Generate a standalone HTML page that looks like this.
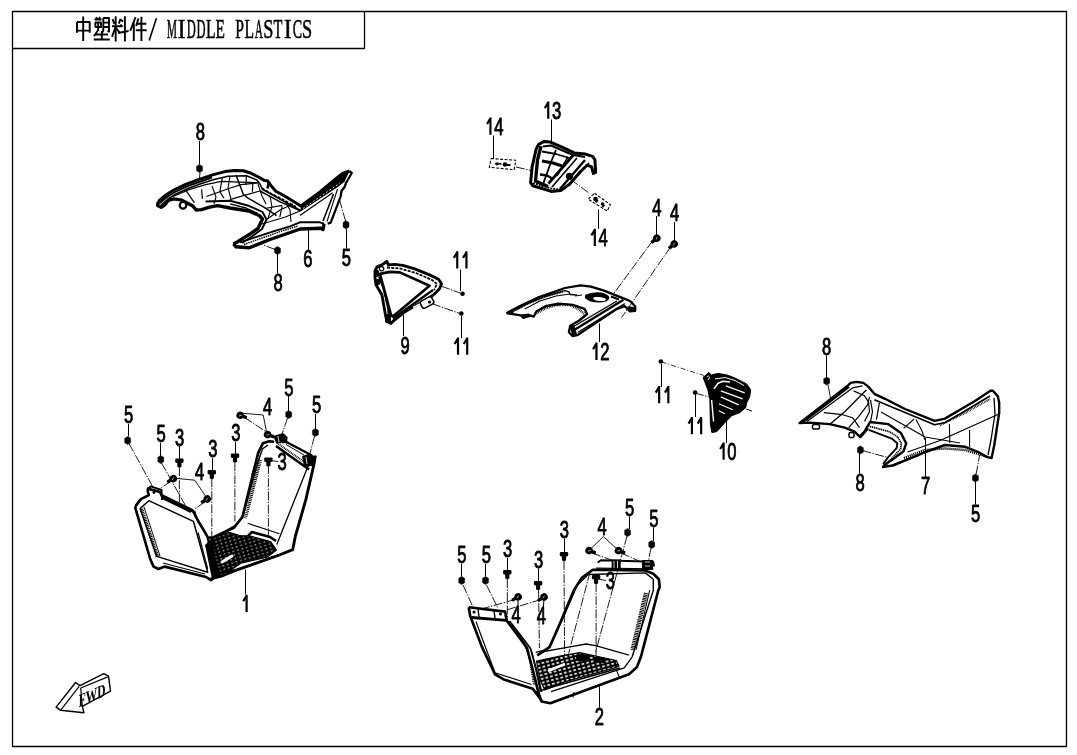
<!DOCTYPE html>
<html><head><meta charset="utf-8"><style>
html,body{margin:0;padding:0;background:#fff;width:1077px;height:755px;overflow:hidden}
svg{display:block;filter:grayscale(1)}
.nl{font-family:"Liberation Sans",sans-serif;font-size:23.7px;text-anchor:middle;fill:#000;stroke:#000;stroke-width:0.9}
.tt{font-family:"Liberation Serif",serif;font-size:27.8px;fill:#000;stroke:#000;stroke-width:0.6}
</style></head><body>
<svg width="1077" height="755" viewBox="0 0 1077 755" stroke-linejoin="round">
<defs><pattern id="fl" width="4.6" height="3.6" patternUnits="userSpaceOnUse" patternTransform="rotate(-17)"><rect width="4.6" height="3.6" fill="#000"/><rect x="1.4" y="1.2" width="1.6" height="0.9" fill="#fff"/></pattern>
<pattern id="fl2" width="4.8" height="3.8" patternUnits="userSpaceOnUse" patternTransform="rotate(-15)"><rect width="4.8" height="3.8" fill="#000"/><rect x="1.1" y="1" width="2.6" height="1.6" fill="#fff"/></pattern></defs>
<rect x="12.5" y="11.5" width="1054" height="735" fill="none" stroke="#000" stroke-width="1.3"/>
<path d="M12.5 48.5 H364.5 V11" fill="none" stroke="#000" stroke-width="1.3"/>
<path d="M77 22 V32.7 M77 22 H89.7 V32.7 M77 30.6 H89.7 M83.2 16.4 V41 M94.5 19.5 H101.5 M96 17.2 L97.2 19 M100 17 L99 19 M95 22.5 H101.5 M95.3 22.5 V27 M101 22.5 V27 M94.8 27 H101.8 M98.2 22.5 V30 L94 36.2 M103.3 18 V30.5 L102 33 M103.3 18 H109 V31.5 L107.5 31 M103.3 22.6 H109 M103.3 27 H109 M95.5 34.5 H108 M101.8 31 V39.3 M93.8 39.5 H109.8 M112.6 19.2 L114.3 23.8 M120.6 18.8 L118.8 23.6 M112 26.3 H121.2 M115.7 16.3 V41.4 M115.4 27.4 L112 36.8 M116.4 28.2 L119.4 32.5 M121 19.8 L123 21.6 M120.3 24.6 L122.6 26.8 M118 33 L128.6 31 M124.9 16.3 V41.4 M135.6 17.2 L130.2 30.8 M133.8 23.2 V41 M138.4 18.4 L136.2 26 M137 23.7 H146.3 M135.8 30.3 H146.7 M141.4 16.8 V41" fill="none" stroke="#000" stroke-width="1.9" stroke-linecap="butt"/>
<path d="M156.4 18.3 L149.2 40.4" fill="none" stroke="#000" stroke-width="1.6"/>
<text transform="translate(171.90 37.8) scale(0.416 1)" x="-12.35" y="0" class="tt">M</text>
<text transform="translate(181.55 37.8) scale(0.825 1)" x="-4.64" y="0" class="tt">I</text>
<text transform="translate(191.20 37.8) scale(0.451 1)" x="-9.88" y="0" class="tt">D</text>
<text transform="translate(200.85 37.8) scale(0.451 1)" x="-9.88" y="0" class="tt">D</text>
<text transform="translate(210.50 37.8) scale(0.565 1)" x="-8.06" y="0" class="tt">L</text>
<text transform="translate(220.15 37.8) scale(0.554 1)" x="-8.20" y="0" class="tt">E</text>
<text transform="translate(239.45 37.8) scale(0.561 1)" x="-7.57" y="0" class="tt">P</text>
<text transform="translate(249.10 37.8) scale(0.565 1)" x="-8.06" y="0" class="tt">L</text>
<text transform="translate(258.75 37.8) scale(0.408 1)" x="-10.07" y="0" class="tt">A</text>
<text transform="translate(268.40 37.8) scale(0.657 1)" x="-7.80" y="0" class="tt">S</text>
<text transform="translate(278.05 37.8) scale(0.524 1)" x="-8.51" y="0" class="tt">T</text>
<text transform="translate(287.70 37.8) scale(0.825 1)" x="-4.64" y="0" class="tt">I</text>
<text transform="translate(297.35 37.8) scale(0.504 1)" x="-9.07" y="0" class="tt">C</text>
<text transform="translate(307.00 37.8) scale(0.657 1)" x="-7.80" y="0" class="tt">S</text>
<text x="0" y="0" transform="translate(200.3 139.6) scale(0.7 1)" class="nl">8</text>
<text x="0" y="0" transform="translate(307.9 267.1) scale(0.7 1)" class="nl">6</text>
<text x="0" y="0" transform="translate(346.4 266.0) scale(0.7 1)" class="nl">5</text>
<text x="0" y="0" transform="translate(278.0 291.2) scale(0.7 1)" class="nl">8</text>
<text x="0" y="0" transform="translate(498.8 134.7) scale(0.7 1)" class="nl">4</text>
<text x="0" y="0" transform="translate(556.6 118.8) scale(0.7 1)" class="nl">3</text>
<text x="0" y="0" transform="translate(603.1 246.1) scale(0.7 1)" class="nl">4</text>
<text x="0" y="0" transform="translate(656.9 215.5) scale(0.7 1)" class="nl">4</text>
<text x="0" y="0" transform="translate(674.5 221.3) scale(0.7 1)" class="nl">4</text>
<text x="0" y="0" transform="translate(405.0 353.9) scale(0.7 1)" class="nl">9</text>
<text x="0" y="0" transform="translate(604.8 359.9) scale(0.7 1)" class="nl">2</text>
<text x="0" y="0" transform="translate(826.6 354.7) scale(0.7 1)" class="nl">8</text>
<text x="0" y="0" transform="translate(731.9 459.7) scale(0.7 1)" class="nl">0</text>
<text x="0" y="0" transform="translate(860.0 491.3) scale(0.7 1)" class="nl">8</text>
<text x="0" y="0" transform="translate(925.6 494.1) scale(0.7 1)" class="nl">7</text>
<text x="0" y="0" transform="translate(975.7 521.6) scale(0.7 1)" class="nl">5</text>
<text x="0" y="0" transform="translate(128.5 423.3) scale(0.7 1)" class="nl">5</text>
<text x="0" y="0" transform="translate(161.1 442.3) scale(0.7 1)" class="nl">5</text>
<text x="0" y="0" transform="translate(179.7 445.5) scale(0.7 1)" class="nl">3</text>
<text x="0" y="0" transform="translate(212.8 457.4) scale(0.7 1)" class="nl">3</text>
<text x="0" y="0" transform="translate(199.6 480.4) scale(0.7 1)" class="nl">4</text>
<text x="0" y="0" transform="translate(235.9 441.3) scale(0.7 1)" class="nl">3</text>
<text x="0" y="0" transform="translate(267.7 414.8) scale(0.7 1)" class="nl">4</text>
<text x="0" y="0" transform="translate(288.9 395.5) scale(0.7 1)" class="nl">5</text>
<text x="0" y="0" transform="translate(316.5 413.4) scale(0.7 1)" class="nl">5</text>
<text x="0" y="0" transform="translate(282.0 470.4) scale(0.7 1)" class="nl">3</text>
<text x="0" y="0" transform="translate(461.9 563.2) scale(0.7 1)" class="nl">5</text>
<text x="0" y="0" transform="translate(486.4 563.2) scale(0.7 1)" class="nl">5</text>
<text x="0" y="0" transform="translate(507.6 557.2) scale(0.7 1)" class="nl">3</text>
<text x="0" y="0" transform="translate(538.5 567.8) scale(0.7 1)" class="nl">3</text>
<text x="0" y="0" transform="translate(516.0 622.8) scale(0.7 1)" class="nl">4</text>
<text x="0" y="0" transform="translate(541.3 624.2) scale(0.7 1)" class="nl">4</text>
<text x="0" y="0" transform="translate(564.3 537.9) scale(0.7 1)" class="nl">3</text>
<text x="0" y="0" transform="translate(602.0 534.7) scale(0.7 1)" class="nl">4</text>
<text x="0" y="0" transform="translate(629.5 515.7) scale(0.7 1)" class="nl">5</text>
<text x="0" y="0" transform="translate(653.8 526.8) scale(0.7 1)" class="nl">5</text>
<text x="0" y="0" transform="translate(610.4 588.8) scale(0.7 1)" class="nl">3</text>
<text x="0" y="0" transform="translate(599.4 725.0) scale(0.7 1)" class="nl">2</text>
<path d="M490.45 117.40 V134.70 M490.45 118.30 L487.05 124.00 M548.25 101.50 V118.80 M548.25 102.40 L544.85 108.10 M594.80 228.80 V246.10 M594.80 229.70 L591.40 235.40 M457.25 251.30 V268.60 M457.25 252.20 L453.85 257.90 M466.45 251.30 V268.60 M466.45 252.20 L463.05 257.90 M458.00 337.40 V354.70 M458.00 338.30 L454.60 344.00 M467.20 337.40 V354.70 M467.20 338.30 L463.80 344.00 M596.45 342.60 V359.90 M596.45 343.50 L593.05 349.20 M659.15 386.00 V403.30 M659.15 386.90 L655.75 392.60 M668.35 386.00 V403.30 M668.35 386.90 L664.95 392.60 M691.95 417.00 V434.30 M691.95 417.90 L688.55 423.60 M701.15 417.00 V434.30 M701.15 417.90 L697.75 423.60 M723.60 442.40 V459.70 M723.60 443.30 L720.20 449.00 M246.60 594.70 V612.00 M246.60 595.60 L243.20 601.30" fill="none" stroke="#000" stroke-width="2.2" stroke-linecap="butt"/>
<path d="M199.5 141 L199.5 164.5" fill="none" stroke="#000" stroke-width="1.05"/>
<path d="M308.5 228 L308.5 250" fill="none" stroke="#000" stroke-width="1.05"/>
<path d="M346.5 229 L346.5 248.5" fill="none" stroke="#000" stroke-width="1.05"/>
<path d="M277.5 254 L277.5 273.5" fill="none" stroke="#000" stroke-width="1.05"/>
<path d="M551.5 119.5 L551.5 142" fill="none" stroke="#000" stroke-width="1.05"/>
<path d="M493.5 135.5 L493.5 158.5" fill="none" stroke="#000" stroke-width="1.05"/>
<path d="M598.5 209.5 L598.5 229" fill="none" stroke="#000" stroke-width="1.05"/>
<path d="M460.5 269.5 L460.5 291" fill="none" stroke="#000" stroke-width="1.05"/>
<path d="M461.5 316 L461.5 338" fill="none" stroke="#000" stroke-width="1.05"/>
<path d="M403.5 314.5 L403.5 336" fill="none" stroke="#000" stroke-width="1.05"/>
<path d="M599.5 323.5 L599.5 342" fill="none" stroke="#000" stroke-width="1.05"/>
<path d="M656.5 216 L656.5 235" fill="none" stroke="#000" stroke-width="1.05"/>
<path d="M674.5 222 L674.5 241" fill="none" stroke="#000" stroke-width="1.05"/>
<path d="M661.5 364 L661.5 387" fill="none" stroke="#000" stroke-width="1.05"/>
<path d="M695.5 395 L695.5 417" fill="none" stroke="#000" stroke-width="1.05"/>
<path d="M726.5 420 L726.5 443" fill="none" stroke="#000" stroke-width="1.05"/>
<path d="M826.5 355.5 L826.5 377.5" fill="none" stroke="#000" stroke-width="1.05"/>
<path d="M859.5 453 L859.5 473.5" fill="none" stroke="#000" stroke-width="1.05"/>
<path d="M925.5 438 L925.5 477" fill="none" stroke="#000" stroke-width="1.05"/>
<path d="M975.5 482 L975.5 504.5" fill="none" stroke="#000" stroke-width="1.05"/>
<path d="M128.5 424 L128.5 436.5" fill="none" stroke="#000" stroke-width="1.05"/>
<path d="M160.5 443 L160.5 456" fill="none" stroke="#000" stroke-width="1.05"/>
<path d="M179.5 446 L179.5 459" fill="none" stroke="#000" stroke-width="1.05"/>
<path d="M212.5 458 L212.5 470" fill="none" stroke="#000" stroke-width="1.05"/>
<path d="M235.5 442 L235.5 454" fill="none" stroke="#000" stroke-width="1.05"/>
<path d="M288.5 396 L288.5 411" fill="none" stroke="#000" stroke-width="1.05"/>
<path d="M315.5 414 L315.5 429" fill="none" stroke="#000" stroke-width="1.05"/>
<path d="M245.5 569.6 L245.5 594.5" fill="none" stroke="#000" stroke-width="1.05"/>
<path d="M461.5 564 L461.5 576.5" fill="none" stroke="#000" stroke-width="1.05"/>
<path d="M485.5 564 L485.5 576.5" fill="none" stroke="#000" stroke-width="1.05"/>
<path d="M507.5 558 L507.5 570.5" fill="none" stroke="#000" stroke-width="1.05"/>
<path d="M538.5 568.5 L538.5 581.5" fill="none" stroke="#000" stroke-width="1.05"/>
<path d="M564.5 538.5 L564.5 552" fill="none" stroke="#000" stroke-width="1.05"/>
<path d="M629.5 516.5 L629.5 529" fill="none" stroke="#000" stroke-width="1.05"/>
<path d="M653.5 527.5 L653.5 541" fill="none" stroke="#000" stroke-width="1.05"/>
<path d="M599.5 686.5 L599.5 707.5" fill="none" stroke="#000" stroke-width="1.05"/>
<path d="M517.8 607 L518.2 599" fill="none" stroke="#000" stroke-width="1.05"/>
<path d="M543.2 608.5 L544 599" fill="none" stroke="#000" stroke-width="1.05"/>
<path d="M176 478.4 L194.8 480.2 L206.5 497.5" fill="none" stroke="#000" stroke-width="0.9"/>
<path d="M828 384.5 L830.5 398" fill="none" stroke="#000" stroke-width="0.9"/>
<path d="M242 413.2 L263.2 415 L266.5 432" fill="none" stroke="#000" stroke-width="0.9"/>
<path d="M590 549.5 L603.3 536.6 L617.5 549.5" fill="none" stroke="#000" stroke-width="0.9"/>
<path d="M270 460.5 L278.2 461.5" fill="none" stroke="#000" stroke-width="0.9"/>
<path d="M598 579 L606 580.5" fill="none" stroke="#000" stroke-width="0.9"/>
<path d="M661.5 362 L703.8 375.4" fill="none" stroke="#000" stroke-width="0.8" stroke-dasharray="5 2 1 2"/>
<path d="M200 172 L199.5 178.5" fill="none" stroke="#000" stroke-width="0.9" stroke-dasharray="9 1.4 1.4 1.4"/>
<path d="M345.5 221 L339 198" fill="none" stroke="#000" stroke-width="0.9" stroke-dasharray="9 1.4 1.4 1.4"/>
<path d="M275 249.5 L262.4 244.6" fill="none" stroke="#000" stroke-width="0.9" stroke-dasharray="9 1.4 1.4 1.4"/>
<path d="M516 167 L531 170.5" fill="none" stroke="#000" stroke-width="0.9" stroke-dasharray="9 1.4 1.4 1.4"/>
<path d="M570.6 179.3 L589.7 193.6" fill="none" stroke="#000" stroke-width="0.9" stroke-dasharray="9 1.4 1.4 1.4"/>
<path d="M441.2 286.1 L460 293" fill="none" stroke="#000" stroke-width="0.9" stroke-dasharray="9 1.4 1.4 1.4"/>
<path d="M432 303.6 L459 313.2" fill="none" stroke="#000" stroke-width="0.9" stroke-dasharray="9 1.4 1.4 1.4"/>
<path d="M652.5 241 L613.8 293.5" fill="none" stroke="#000" stroke-width="0.9" stroke-dasharray="9 1.4 1.4 1.4"/>
<path d="M670.5 247 L621.6 317.6" fill="none" stroke="#000" stroke-width="0.9" stroke-dasharray="9 1.4 1.4 1.4"/>
<path d="M695 393 L708.6 396.9" fill="none" stroke="#000" stroke-width="0.9" stroke-dasharray="9 1.4 1.4 1.4"/>
<path d="M862.5 450.5 L887.3 457.4" fill="none" stroke="#000" stroke-width="0.9" stroke-dasharray="9 1.4 1.4 1.4"/>
<path d="M976 474.5 L979.7 454.8" fill="none" stroke="#000" stroke-width="0.9" stroke-dasharray="9 1.4 1.4 1.4"/>
<path d="M129 443.5 L153.2 487.6" fill="none" stroke="#000" stroke-width="0.9" stroke-dasharray="9 1.4 1.4 1.4"/>
<path d="M161.5 463 L187.7 509.6" fill="none" stroke="#000" stroke-width="0.9" stroke-dasharray="9 1.4 1.4 1.4"/>
<path d="M179.4 467 L179.4 503.6" fill="none" stroke="#000" stroke-width="0.9" stroke-dasharray="9 1.4 1.4 1.4"/>
<path d="M211.8 478 L211.8 540" fill="none" stroke="#000" stroke-width="0.9" stroke-dasharray="9 1.4 1.4 1.4"/>
<path d="M234.9 462 L234.9 521.5" fill="none" stroke="#000" stroke-width="0.9" stroke-dasharray="9 1.4 1.4 1.4"/>
<path d="M171 481 L159.1 489.3" fill="none" stroke="#000" stroke-width="0.9" stroke-dasharray="9 1.4 1.4 1.4"/>
<path d="M205 502 L193.6 509.6" fill="none" stroke="#000" stroke-width="0.9" stroke-dasharray="9 1.4 1.4 1.4"/>
<path d="M244.5 417.4 L266.4 432" fill="none" stroke="#000" stroke-width="0.9" stroke-dasharray="9 1.4 1.4 1.4"/>
<path d="M287.5 418 L282.3 433.3" fill="none" stroke="#000" stroke-width="0.9" stroke-dasharray="9 1.4 1.4 1.4"/>
<path d="M314.5 436 L310.1 453.2" fill="none" stroke="#000" stroke-width="0.9" stroke-dasharray="9 1.4 1.4 1.4"/>
<path d="M268.4 465 L268.4 536.5" fill="none" stroke="#000" stroke-width="0.9" stroke-dasharray="9 1.4 1.4 1.4"/>
<path d="M463 585 L473.2 607.6" fill="none" stroke="#000" stroke-width="0.9" stroke-dasharray="9 1.4 1.4 1.4"/>
<path d="M486.5 585 L497.7 607.6" fill="none" stroke="#000" stroke-width="0.9" stroke-dasharray="9 1.4 1.4 1.4"/>
<path d="M507.3 579 L507.3 620" fill="none" stroke="#000" stroke-width="0.9" stroke-dasharray="9 1.4 1.4 1.4"/>
<path d="M538.6 590 L539.4 648" fill="none" stroke="#000" stroke-width="0.9" stroke-dasharray="9 1.4 1.4 1.4"/>
<path d="M515 599.5 L481.8 608.9" fill="none" stroke="#000" stroke-width="0.9" stroke-dasharray="9 1.4 1.4 1.4"/>
<path d="M541 599.5 L505.7 610.2" fill="none" stroke="#000" stroke-width="0.9" stroke-dasharray="9 1.4 1.4 1.4"/>
<path d="M564 561 L564.6 656.8" fill="none" stroke="#000" stroke-width="0.9" stroke-dasharray="9 1.4 1.4 1.4"/>
<path d="M592 553 L612 560.2" fill="none" stroke="#000" stroke-width="0.9" stroke-dasharray="9 1.4 1.4 1.4"/>
<path d="M621 553 L639 561" fill="none" stroke="#000" stroke-width="0.9" stroke-dasharray="9 1.4 1.4 1.4"/>
<path d="M627 536 L595.6 652" fill="none" stroke="#000" stroke-width="0.9" stroke-dasharray="9 1.4 1.4 1.4"/>
<path d="M651 548 L648.6 560.2" fill="none" stroke="#000" stroke-width="0.9" stroke-dasharray="9 1.4 1.4 1.4"/>
<path d="M596.1 583 L596.1 656.8" fill="none" stroke="#000" stroke-width="0.9" stroke-dasharray="9 1.4 1.4 1.4"/>
<path d="M590 572 L568.6 653.6" fill="none" stroke="#000" stroke-width="0.9" stroke-dasharray="9 1.4 1.4 1.4"/>
<path d="M196.5 166.2 l3 -1.8 l3 1.8 v4.6 l-3 1.8 l-3 -1.8z" fill="#000" stroke="#000" stroke-width="0.4"/>
<path d="M274.5 248.2 l3 -1.8 l3 1.8 v4.6 l-3 1.8 l-3 -1.8z" fill="#000" stroke="#000" stroke-width="0.4"/>
<path d="M343.0 222.5 l3 -1.8 l3 1.8 v4.6 l-3 1.8 l-3 -1.8z" fill="#000" stroke="#000" stroke-width="0.4"/>
<path d="M823.7 378.7 l3 -1.8 l3 1.8 v4.6 l-3 1.8 l-3 -1.8z" fill="#000" stroke="#000" stroke-width="0.4"/>
<path d="M857.4 447.7 l3 -1.8 l3 1.8 v4.6 l-3 1.8 l-3 -1.8z" fill="#000" stroke="#000" stroke-width="0.4"/>
<path d="M972.4 475.7 l3 -1.8 l3 1.8 v4.6 l-3 1.8 l-3 -1.8z" fill="#000" stroke="#000" stroke-width="0.4"/>
<path d="M124.7 438.2 l3 -1.8 l3 1.8 v4.6 l-3 1.8 l-3 -1.8z" fill="#000" stroke="#000" stroke-width="0.4"/>
<path d="M157.8 457.2 l3 -1.8 l3 1.8 v4.6 l-3 1.8 l-3 -1.8z" fill="#000" stroke="#000" stroke-width="0.4"/>
<path d="M285.7 412.2 l3 -1.8 l3 1.8 v4.6 l-3 1.8 l-3 -1.8z" fill="#000" stroke="#000" stroke-width="0.4"/>
<path d="M312.4 430.2 l3 -1.8 l3 1.8 v4.6 l-3 1.8 l-3 -1.8z" fill="#000" stroke="#000" stroke-width="0.4"/>
<path d="M458.7 578.2 l3 -1.8 l3 1.8 v4.6 l-3 1.8 l-3 -1.8z" fill="#000" stroke="#000" stroke-width="0.4"/>
<path d="M482.5 578.2 l3 -1.8 l3 1.8 v4.6 l-3 1.8 l-3 -1.8z" fill="#000" stroke="#000" stroke-width="0.4"/>
<path d="M624.6 530.2 l3 -1.8 l3 1.8 v4.6 l-3 1.8 l-3 -1.8z" fill="#000" stroke="#000" stroke-width="0.4"/>
<path d="M648.7 542.2 l3 -1.8 l3 1.8 v4.6 l-3 1.8 l-3 -1.8z" fill="#000" stroke="#000" stroke-width="0.4"/>
<path d="M175.2 459.7 Q175.2 458.5 176.4 458.5 H182.4 Q183.6 458.5 183.6 459.7 V461.7 Q183.6 463.1 181.5 463.1 V466.5 Q181.5 467.5 179.4 467.5 Q177.3 467.5 177.3 466.5 V463.1 Q175.2 463.1 175.2 461.7Z" fill="#000"/>
<path d="M207.6 471.2 Q207.6 470 208.8 470 H214.8 Q216 470 216 471.2 V473.2 Q216 474.6 213.9 474.6 V478 Q213.9 479 211.8 479 Q209.7 479 209.7 478 V474.6 Q207.6 474.6 207.6 473.2Z" fill="#000"/>
<path d="M230.8 454.7 Q230.8 453.5 232 453.5 H238 Q239.2 453.5 239.2 454.7 V456.7 Q239.2 458.1 237.1 458.1 V461.5 Q237.1 462.5 235 462.5 Q232.9 462.5 232.9 461.5 V458.1 Q230.8 458.1 230.8 456.7Z" fill="#000"/>
<path d="M264.2 458.7 Q264.2 457.5 265.4 457.5 H271.4 Q272.6 457.5 272.6 458.7 V460.7 Q272.6 462.1 270.5 462.1 V465.5 Q270.5 466.5 268.4 466.5 Q266.3 466.5 266.3 465.5 V462.1 Q264.2 462.1 264.2 460.7Z" fill="#000"/>
<path d="M503.1 571.2 Q503.1 570 504.3 570 H510.3 Q511.5 570 511.5 571.2 V573.2 Q511.5 574.6 509.4 574.6 V578 Q509.4 579 507.3 579 Q505.2 579 505.2 578 V574.6 Q503.1 574.6 503.1 573.2Z" fill="#000"/>
<path d="M533.9 582.2 Q533.9 581 535.1 581 H541.1 Q542.3 581 542.3 582.2 V584.2 Q542.3 585.6 540.2 585.6 V589 Q540.2 590 538.1 590 Q536 590 536 589 V585.6 Q533.9 585.6 533.9 584.2Z" fill="#000"/>
<path d="M559.8 553.2 Q559.8 552 561 552 H567 Q568.2 552 568.2 553.2 V555.2 Q568.2 556.6 566.1 556.6 V560 Q566.1 561 564 561 Q561.9 561 561.9 560 V556.6 Q559.8 556.6 559.8 555.2Z" fill="#000"/>
<path d="M591.9 576.2 Q591.9 575 593.1 575 H599.1 Q600.3 575 600.3 576.2 V578.2 Q600.3 579.6 598.2 579.6 V583 Q598.2 584 596.1 584 Q594 584 594 583 V579.6 Q591.9 579.6 591.9 578.2Z" fill="#000"/>
<g transform="translate(173.4 478.6) rotate(-30)"><circle r="3.7" fill="#000"/><rect x="-7.2" y="-1.7" width="5" height="3.4" rx="1" fill="#000"/><path d="M-1.6 0.6 L0.8 -0.8" stroke="#fff" stroke-width="0.6"/></g>
<g transform="translate(207.3 499.0) rotate(-30)"><circle r="3.7" fill="#000"/><rect x="-7.2" y="-1.7" width="5" height="3.4" rx="1" fill="#000"/><path d="M-1.6 0.6 L0.8 -0.8" stroke="#fff" stroke-width="0.6"/></g>
<g transform="translate(240.1 415.3) rotate(200)"><circle r="3.7" fill="#000"/><rect x="-7.2" y="-1.7" width="5" height="3.4" rx="1" fill="#000"/><path d="M-1.6 0.6 L0.8 -0.8" stroke="#fff" stroke-width="0.6"/></g>
<g transform="translate(267.5 434.6) rotate(200)"><circle r="3.7" fill="#000"/><rect x="-7.2" y="-1.7" width="5" height="3.4" rx="1" fill="#000"/><path d="M-1.6 0.6 L0.8 -0.8" stroke="#fff" stroke-width="0.6"/></g>
<g transform="translate(518.2 596.8) rotate(-30)"><circle r="3.7" fill="#000"/><rect x="-7.2" y="-1.7" width="5" height="3.4" rx="1" fill="#000"/><path d="M-1.6 0.6 L0.8 -0.8" stroke="#fff" stroke-width="0.6"/></g>
<g transform="translate(544.1 597.0) rotate(-30)"><circle r="3.7" fill="#000"/><rect x="-7.2" y="-1.7" width="5" height="3.4" rx="1" fill="#000"/><path d="M-1.6 0.6 L0.8 -0.8" stroke="#fff" stroke-width="0.6"/></g>
<g transform="translate(589.0 550.6) rotate(200)"><circle r="3.7" fill="#000"/><rect x="-7.2" y="-1.7" width="5" height="3.4" rx="1" fill="#000"/><path d="M-1.6 0.6 L0.8 -0.8" stroke="#fff" stroke-width="0.6"/></g>
<g transform="translate(618.4 550.6) rotate(200)"><circle r="3.7" fill="#000"/><rect x="-7.2" y="-1.7" width="5" height="3.4" rx="1" fill="#000"/><path d="M-1.6 0.6 L0.8 -0.8" stroke="#fff" stroke-width="0.6"/></g>
<g transform="translate(656.9 238.1) rotate(-40)"><circle r="3.7" fill="#000"/><rect x="-7.2" y="-1.7" width="5" height="3.4" rx="1" fill="#000"/><path d="M-1.6 0.6 L0.8 -0.8" stroke="#fff" stroke-width="0.6"/></g>
<g transform="translate(674.3 243.9) rotate(-40)"><circle r="3.7" fill="#000"/><rect x="-7.2" y="-1.7" width="5" height="3.4" rx="1" fill="#000"/><path d="M-1.6 0.6 L0.8 -0.8" stroke="#fff" stroke-width="0.6"/></g>
<circle cx="462.5" cy="293.7" r="2.3" fill="#000"/>
<circle cx="461.3" cy="313.5" r="2.3" fill="#000"/>
<circle cx="660.9" cy="361.5" r="2.3" fill="#000"/>
<circle cx="695.1" cy="392.6" r="2.3" fill="#000"/>
<path d="M158.3 201.5 L165.9 195 L173.8 190 L185.7 184.3 L197.7 179.8 L213.5 174.6 L225 171.6 L234.5 170.4 L243.3 170.7 L250.4 173 L258.4 177 L264.7 180.6 L267.5 180.8 L271.1 185.7 L275.8 191.3 L284.6 196 L296.5 203.2 L300.9 206 L320 192 L335 179.5 L342.6 173.4 L349.6 171" fill="none" stroke="#000" stroke-width="3.0"/>
<path d="M161 205 L168 199 L176 194 L188 188.5 L200 184 L214 179.4 L228 176.2 L246.4 175.7 L256.8 180 L260 184 L262.3 189.3 L272.7 195 L300.5 210.5 L336.7 186.8 L345 180.5" fill="none" stroke="#000" stroke-width="1.56"/>
<path d="M300.9 206 L320 192 L335 179.5 L342.6 173.4 L349.6 171 L345 180.5 L336.7 186.8 L300.5 210.5Z" fill="#000"/>
<path d="M303 208.5 L340 183" fill="none" stroke="#fff" stroke-width="0.84" stroke-dasharray="2 2"/>
<path d="M159.5 203.2 L167 197 L175 192 L187 186.4 L199 182 L212 177.5" fill="none" stroke="#000" stroke-width="1.92"/>
<path d="M349.6 171 L351.8 173 L346 183 L344.6 187 L341.6 190.8 L340.6 196.7 L330.7 222.6 L327.7 223.6" fill="none" stroke="#000" stroke-width="2.28"/>
<path d="M333.5 194 L323 221" fill="none" stroke="#000" stroke-width="1.56"/>
<path d="M337.5 189 L327 221.5" fill="none" stroke="#000" stroke-width="1.08"/>
<path d="M299.9 215.6 L332.7 192.8" fill="none" stroke="#000" stroke-width="1.2"/>
<path d="M158.3 201.5 L157.6 205.5 L161.1 207.2 L164.3 205.3 L168.3 200.5 L173.8 198.9 L181.8 200.2 L188 203.5 L192.9 206.1 L196.1 210 L201.6 209.6 L209.6 207.2 L217.5 205.6 L230 208 L248.8 211 L259.2 215.5 L262.5 219 L258 228.5 L250.1 234 L238 241.5 L233.5 244" fill="none" stroke="#000" stroke-width="3.36"/>
<circle cx="183" cy="205.3" r="3.3" fill="#fff" stroke="#000" stroke-width="2.2"/>
<path d="M205.6 201.5 L230 200.8 L248.8 205.8 L262.5 212 L266.5 219.5 L262 229 L252 236.5 L242 243" fill="none" stroke="#000" stroke-width="1.92"/>
<path d="M230 203.8 L246 208 L258 213.5" fill="none" stroke="#000" stroke-width="1.32"/>
<path d="M233.5 244 L236 246.8 L249.3 247.8 L270 239.5 L300.2 229 L320.6 228.2 L323 229.6 L324 223.6" fill="none" stroke="#000" stroke-width="3.36"/>
<path d="M240 242.3 L255 237.3 L275 230.8 L290 226.3 L299.9 222.3 L319.8 222.3 L324 223.6" fill="none" stroke="#000" stroke-width="1.92"/>
<path d="M244 244.5 L262 238 L282 231 L298 226" fill="none" stroke="#000" stroke-width="1.44" stroke-dasharray="1.5 0.8"/>
<path d="M173 196.5 L189.7 189.4 L205.6 184.6 L221.5 181.4 L240 182.2 L258.4 182.6" fill="none" stroke="#000" stroke-width="1.2"/>
<path d="M185.7 190.2 L194.5 202.9" fill="none" stroke="#000" stroke-width="1.2"/>
<path d="M201.6 189.4 L202.4 198.9" fill="none" stroke="#000" stroke-width="1.2"/>
<path d="M222.3 177.5 L219.9 191.8 L223.9 198.1" fill="none" stroke="#000" stroke-width="1.2"/>
<path d="M206.4 196.5 L229 188.5 L240.9 184.6 L258.4 183" fill="none" stroke="#000" stroke-width="1.2"/>
<path d="M229.8 199.7 L243.3 195.7 L260 191" fill="none" stroke="#000" stroke-width="1.2"/>
<path d="M236.1 175.1 L239.3 183.8 L243.3 194.2 L248 198.1 L264.7 207.7 L276.6 215.6" fill="none" stroke="#000" stroke-width="1.44"/>
<path d="M246.4 175.1 L246 184.6" fill="none" stroke="#000" stroke-width="1.2"/>
<path d="M252.8 183 L252.4 191.8" fill="none" stroke="#000" stroke-width="1.2"/>
<path d="M260 191 L280.6 202.1 L300.5 210.8" fill="none" stroke="#000" stroke-width="1.44"/>
<path d="M264.7 208.5 L282.2 205.3" fill="none" stroke="#000" stroke-width="1.2"/>
<path d="M282.2 206.1 L279.8 217.2" fill="none" stroke="#000" stroke-width="1.2"/>
<path d="M262 224 L284.6 217.2 L300 211" fill="none" stroke="#000" stroke-width="1.2"/>
<path d="M269 181.5 L267.5 188.5" fill="none" stroke="#000" stroke-width="2.64"/>
<path d="M212 186 L216 197 L214 204" fill="none" stroke="#000" stroke-width="1.08"/>
<path d="M230 176 L228 188 L231 199" fill="none" stroke="#000" stroke-width="1.08"/>
<path d="M258 184 L262 196 L266 204" fill="none" stroke="#000" stroke-width="1.08"/>
<path d="M270 196 L272 207 L268 218" fill="none" stroke="#000" stroke-width="1.08"/>
<path d="M285 201 L290 210 L291 222" fill="none" stroke="#000" stroke-width="1.08"/>
<path d="M266 220 L280 210 L293 204" fill="none" stroke="#000" stroke-width="1.08"/>
<path d="M262 188 L270 193 L282 199 L297 207.5" fill="none" stroke="#000" stroke-width="1.68" stroke-dasharray="3 1.5"/>
<path d="M538.5 144.5 L544.1 141.4 L550.4 142.1 L563.1 147.7 L574.2 152.9 L585.4 154.1 L592.5 156.4 L594.9 159.6 L595.7 172.3 L593.3 173.5 L591.7 166.8 L587 165.2 L580.6 171.5 L569.5 184.2 L560.7 190.6 L551.2 191.4 L532.9 185.8 L530.6 182.7 L532.1 166.8 L536.1 149.3 L538.5 144.5Z" fill="none" stroke="#000" stroke-width="3.0"/>
<path d="M541 146 L537.5 160 L535.5 181 L548 186.5" fill="none" stroke="#000" stroke-width="3.3"/>
<path d="M543 146.5 L551 145.5 L573 155 L585 157" fill="none" stroke="#000" stroke-width="1.95"/>
<path d="M542 151.5 L556 154 L571 158.5" fill="none" stroke="#000" stroke-width="1.8"/>
<path d="M542 161 L553 163 L562 166" fill="none" stroke="#000" stroke-width="3.0"/>
<path d="M540 174.5 L547 175.5 L553 179" fill="none" stroke="#000" stroke-width="2.4"/>
<path d="M556 150 L551 162 L546 176 L542 187" fill="none" stroke="#000" stroke-width="1.8"/>
<path d="M568 157 L562 167 L557 176" fill="none" stroke="#000" stroke-width="1.5"/>
<path d="M573 155.5 L548.5 183.5" fill="none" stroke="#000" stroke-width="2.7"/>
<path d="M577 158 L552 187" fill="none" stroke="#000" stroke-width="1.65"/>
<path d="M585 160 L560 189" fill="none" stroke="#000" stroke-width="2.4"/>
<path d="M589 163 L575 178" fill="none" stroke="#000" stroke-width="1.5"/>
<path d="M533 183 L551 188.5 L560 189.5" fill="none" stroke="#000" stroke-width="1.8" stroke-dasharray="2 1"/>
<circle cx="569.5" cy="176.3" r="3.6" fill="#000"/>
<path d="M491.1 158.6 L515.8 160.2 L514.2 169.7 L489.2 167.3Z" fill="none" stroke="#000" stroke-width="1.08" stroke-dasharray="3 1.5"/>
<path d="M594.5 193.3 L610.4 204.7 L607.2 211 L588.1 199.1Z" fill="none" stroke="#000" stroke-width="1.08" stroke-dasharray="3 1.5"/>
<g fill="#000"><ellipse cx="497" cy="163.8" rx="2" ry="1.6"/><rect x="498.5" y="163" width="3" height="1.6"/><circle cx="505" cy="164.5" r="2.3"/><rect x="506.5" y="164" width="4" height="2"/><circle cx="595.5" cy="199" r="2.3"/><rect x="596" y="199.5" width="2.5" height="3" transform="rotate(35 597 200)"/><circle cx="602.5" cy="204" r="1.8"/><rect x="603" y="204.5" width="2" height="3" transform="rotate(35 604 205)"/></g>
<path d="M375 270.9 L377 266.9 L381.9 264.9 L386.9 261.5 L388.4 264.9 L394.8 264.4 L402.8 265.4 L414.7 268.9 L429.6 274.9 L438.5 279.3 L441.5 283.8 L439.5 288.8 L433.6 294.7 L427 299.5 L413.7 306.6 L403.8 312.6 L393.8 320.5 L390.9 323.5 L386.9 321.5 L385.4 314.6 L381.9 294.7 L376 284.8 L375 277.8Z" fill="none" stroke="#000" stroke-width="2.88"/>
<path d="M379.9 273.9 L389.9 271.9 L399.8 272.4 L429.6 285.8 L392.8 316.6 L390.9 314.6 L382.9 284.8Z" fill="none" stroke="#000" stroke-width="2.64"/>
<path d="M387 267.5 L400 268.5 L416 273 L432 280 L437 284 L434 290" fill="none" stroke="#000" stroke-width="1.8" stroke-dasharray="3 1.2"/>
<path d="M379 277 L384 290 L388 308 L389 318" fill="none" stroke="#000" stroke-width="1.92"/>
<path d="M393 318.5 L433 290" fill="none" stroke="#000" stroke-width="2.16"/>
<rect x="420.5" y="298.5" width="13" height="8" rx="2.5" fill="#fff" stroke="#000" stroke-width="1.6" transform="rotate(-28 427 302.5)"/><circle cx="429.5" cy="302" r="1.6" fill="#000"/>
<path d="M381.5 266.5 a2.2 2.2 0 1 0 0.1 0" fill="none" stroke="#000" stroke-width="1.4"/>
<rect x="374" y="270" width="5" height="7" rx="1.5" fill="#000"/><rect x="375" y="279" width="5" height="6" rx="1.5" fill="#000"/><rect x="385" y="314" width="6" height="9" rx="2" fill="#000"/>
<path d="M413 307.5 L420 304" fill="none" stroke="#fff" stroke-width="1.68"/>
<path d="M507.2 312.7 L519.5 306.2 L539 297.1 L565 288 L580.6 285.4 L591 286.7 L604 290.6 L623.5 298.4 L630 301 L635.2 306.2 L635.2 310.8 L630 311.4 L624.8 306.2 L617 308.8 L578 334.8 L572.8 336.1 L568.9 332.2 L570.2 325.7 L579.3 320.5 L587.1 314 L584.5 308.8 L572.8 304.9 L558.5 303.6 L545.5 306.2 L536.4 311.4 L533.8 316.6 L529.9 315.3 L523.4 317.9 L520.8 315.3 L507.8 313.4Z" fill="none" stroke="#000" stroke-width="2.28"/>
<path d="M513 311.4 L526 304.3 L545 296.5 L565 290.6 L568.9 291.9 L570.2 294.5 L577 295" fill="none" stroke="#000" stroke-width="1.32"/>
<path d="M516 309.5 L530 302.5 L548 295.5 L563 291.5" fill="none" stroke="#000" stroke-width="2.64" stroke-dasharray="0.8 0.9"/>
<path d="M524.7 309 L540 301 L556 296 L570 294" fill="none" stroke="#000" stroke-width="1.08"/>
<path d="M535.1 314 L545 308.5 L555.9 304.9 L570 305 L578 308.8 L584.5 314" fill="none" stroke="#000" stroke-width="2.64" stroke-dasharray="0.8 0.9"/>
<path d="M536 311 L548 306 L560 305" fill="none" stroke="#000" stroke-width="1.08"/>
<path d="M585 295 Q592 291.5 601 292.5 Q609 294 609.5 298 Q608 302.5 599 302.6 Q589 302.6 585 298Z" fill="#000"/><ellipse cx="599.5" cy="299" rx="6.5" ry="2" fill="#fff" transform="rotate(6 599.5 299)"/>
<path d="M575 296 L582 295" fill="none" stroke="#000" stroke-width="1.2"/>
<path d="M617 301 L572.8 327" fill="none" stroke="#000" stroke-width="1.44"/>
<path d="M623.5 299.7 L575 329.5" fill="none" stroke="#000" stroke-width="2.4"/>
<path d="M624.8 303.6 L578 332.2" fill="none" stroke="#000" stroke-width="1.32"/>
<path d="M611 296.5 L619 299.5" fill="none" stroke="#000" stroke-width="2.16"/>
<path d="M627.4 306.2 L635.2 307 L635 311 L629 311.5Z" fill="#000"/>
<path d="M569.5 326 L574 325 L577 334 L572.5 336Z" fill="#000"/>
<path d="M520.5 314.5 L529 313.5 L531 317 L523 318Z" fill="#000"/><path d="M507.5 311.5 L514 311 L513 314.5 L508 314Z" fill="#000"/>
<path d="M703 377.4 L708.9 372.5 L711.4 374.9 L717.9 373.4 L726.8 374.9 L734.8 377.9 L746.7 383.9 L750.7 389.9 L749.7 396.8 L746.7 402.8 L745.7 407.7 L739.7 412.7 L731.8 415.7 L724.8 422.7 L716.9 431.6 L711.9 432.6 L710.4 424.6 L709.9 399.8 L707.9 389.9Z" fill="#000" stroke="#000" stroke-width="1"/>
<path d="M713.9 388.9 L718 383.2 L723 381.2 L730 382" fill="none" stroke="#fff" stroke-width="1.56"/>
<path d="M725.8 385.9 L744.7 392.8" fill="none" stroke="#fff" stroke-width="1.32"/>
<path d="M720.8 390.8 L742.7 398.8" fill="none" stroke="#fff" stroke-width="1.32"/>
<path d="M720.8 396.8 L738.7 404.8" fill="none" stroke="#fff" stroke-width="1.32"/>
<path d="M718.9 403.8 L732.8 409.7" fill="none" stroke="#fff" stroke-width="1.2"/>
<path d="M718.9 410.7 L724.8 413.7" fill="none" stroke="#fff" stroke-width="1.08"/>
<path d="M711.6 400 L713.6 421.5" fill="none" stroke="#fff" stroke-width="1.44"/>
<path d="M715 379 L725 377.5 L735 380.5 L744 385.5" fill="none" stroke="#fff" stroke-width="0.96"/>
<path d="M707 377 q1.5 -2 2.5 0 q-0.5 2 -1.5 3" fill="none" stroke="#fff" stroke-width="0.9"/>
<path d="M746 409 L752 411" fill="none" stroke="#000" stroke-width="0.96"/>
<path d="M799.5 423.1 L829.8 399.8 L848.6 384.9 L850.6 382.9 L856.6 381.9 L863.5 382.9 L868.5 386.9 L874.4 393.8 L885 398.8 L905 409 L934.6 420.8 L944.9 418.6 L960 409.7 L975 401 L990.4 390.7 L992.9 390.7 L997.9 396.4 L999.2 402.7 L999.2 412.8 L994.2 445.5 L991.6 458.1 L986.6 456.9 L977.8 451.8 L965.2 446.8 L944.9 445 L924.3 452.5 L893.3 465.4 L883 467 L885.5 464.1 L893.3 458.9 L903.6 451.2 L906.2 443.4 L901 433.1 L888.1 424.1 L870 422 L864.5 431.6 L859.5 436.5 L854.6 431.6 L844.7 427.6 L829.8 424.1 L809.9 422.6Z" fill="none" stroke="#000" stroke-width="2.4"/>
<path d="M801 423 L829.8 401 L848.6 386.5" fill="none" stroke="#000" stroke-width="3.36"/>
<path d="M806.9 421.6 L852.6 387.9 L862.5 385.9" fill="none" stroke="#000" stroke-width="1.2"/>
<path d="M823.8 412.7 L842.7 414.7 L852.6 417.7 L859.5 427.6" fill="none" stroke="#000" stroke-width="1.2"/>
<path d="M830.7 423.6 L844.7 411.7 L856.6 399.8 L864.5 391.8 L866.5 389.9" fill="none" stroke="#000" stroke-width="1.32"/>
<path d="M848.6 427.6 L858.6 416.7 L867.5 404.8 L869.5 396.8" fill="none" stroke="#000" stroke-width="1.2"/>
<path d="M853.6 390.9 L864.5 395.8 L868.5 401.8 L869.5 411.7 L864.5 421.6" fill="none" stroke="#000" stroke-width="1.2"/>
<path d="M870.5 399.8 L872.5 411.7 L870.5 421.6" fill="none" stroke="#000" stroke-width="1.2"/>
<path d="M879.4 402.8 L876.4 419.7" fill="none" stroke="#000" stroke-width="1.2"/>
<path d="M874.4 399.8 L905 412.5 L934.6 424.8 L945 422.5 L960 414 L990 396" fill="none" stroke="#000" stroke-width="1.68"/>
<path d="M994 398 L995 414 L991 440 L988 455" fill="none" stroke="#000" stroke-width="1.32"/>
<path d="M868.3 426 L889.8 431.8 L897.8 437 L901.3 443.4 L900.5 449 L892.6 457.7 L886.5 464.5" fill="none" stroke="#000" stroke-width="1.8" stroke-dasharray="1.2 0.7"/>
<path d="M868.7 429.9 L891.8 438.6 L897.4 443.4 L896.6 448.2 L887.8 457.7 L883.1 464" fill="none" stroke="#000" stroke-width="1.92"/>
<path d="M860 437.8 L868 428.3" fill="none" stroke="#000" stroke-width="2.4"/>
<path d="M891.8 465.6 L920 454.5" fill="none" stroke="#000" stroke-width="1.92"/>
<path d="M881 412 L925 437 L960 443" fill="none" stroke="#000" stroke-width="1.2"/>
<path d="M903.6 428.3 L914.2 419" fill="none" stroke="#000" stroke-width="1.08"/>
<path d="M907.5 452 L940 440.5 L999 414" fill="none" stroke="#000" stroke-width="1.2"/>
<path d="M916 419.5 L922 431 L925 440" fill="none" stroke="#000" stroke-width="1.08"/>
<path d="M949.4 424 L949.8 443" fill="none" stroke="#000" stroke-width="1.08"/>
<path d="M969.6 430 L969.6 447" fill="none" stroke="#000" stroke-width="1.08"/>
<path d="M904 458 L925 450 L945 448.5 L965 450 L988 457" fill="none" stroke="#000" stroke-width="2.4" stroke-dasharray="1.2 0.8"/>
<path d="M940 425.4 L965 413 L990 399" fill="none" stroke="#000" stroke-width="1.92" stroke-dasharray="0.8 0.8"/>
<rect x="812.5" y="424.5" width="7" height="4.5" rx="1.5" fill="#fff" stroke="#000" stroke-width="1.5"/><rect x="849" y="432.5" width="5" height="5" rx="1.5" fill="#fff" stroke="#000" stroke-width="1.5"/>
<path d="M148 488.7 L160 491.9 L161.5 495.3 L191.3 509.6 L193.6 512 L198.4 521.5 L203 529 L207.7 537.2 L214 564.3 L216.4 575.4 L210.9 580.2 L206.1 577 L164.7 566.6 L158.4 569 L153.6 566.6 L150.4 559.5 L135.3 507.8 L136.1 505.4 L140.9 499.1 L148.8 495.1 L147.7 491Z" fill="none" stroke="#000" stroke-width="2.64"/>
<path d="M140.1 508.6 L148.8 500.7 L193.4 521.3 L207.7 572.2 L161.6 557.9 L156.8 556.3Z" fill="none" stroke="#000" stroke-width="1.44"/>
<path d="M141.5 509 L157.5 557" fill="none" stroke="#000" stroke-width="3.6" stroke-dasharray="1 0.7"/>
<path d="M144 507 L160 556" fill="none" stroke="#000" stroke-width="0.96"/>
<path d="M161.5 497 L191.3 511.5" fill="none" stroke="#000" stroke-width="3.12"/>
<path d="M148 488.7 L150.7 486.4 L161.5 489.9 L162 500" fill="none" stroke="#000" stroke-width="1.92"/>
<path d="M181.7 507.2 L194.8 512 L196 518" fill="none" stroke="#000" stroke-width="1.92"/>
<circle cx="154" cy="492.5" r="1.4" fill="#000"/><circle cx="188" cy="510" r="1.4" fill="#000"/>
<path d="M198.1 532.5 L207.7 569" fill="none" stroke="#000" stroke-width="1.2"/>
<path d="M163 563 L205 574" fill="none" stroke="#000" stroke-width="1.08"/>
<path d="M209.1 537 L211.5 538.2 L234.2 527.5 L242.5 516.7 L258.2 452.8 L262.9 443.3 L269.3 441.3 L274.1 441.7" fill="none" stroke="#000" stroke-width="2.64"/>
<path d="M315.4 455.5 L313.8 465 L305.9 499.4 L295.3 536.5 L292.7 549.7 L279.4 555 L234.4 570.9 L221.2 576.2 L210.6 578.9" fill="none" stroke="#000" stroke-width="2.88"/>
<path d="M215.9 536.5 L234.4 525.9 L242.4 518 L258 462 L262.4 449 L268 445" fill="none" stroke="#000" stroke-width="1.44"/>
<path d="M262.4 443.9 L259.8 449.2 L251.8 475" fill="none" stroke="#000" stroke-width="1.2"/>
<path d="M260.5 460 L245.5 518" fill="none" stroke="#000" stroke-width="3.12" stroke-dasharray="1 0.8"/>
<path d="M276 436.5 L312 455.5" fill="none" stroke="#000" stroke-width="2.4"/>
<path d="M276 446 L309 469.5" fill="none" stroke="#000" stroke-width="2.64"/>
<path d="M277 443 L310 466" fill="none" stroke="#000" stroke-width="1.92" stroke-dasharray="0.9 0.8"/>
<path d="M286 444.5 L304 455" fill="none" stroke="#000" stroke-width="0.96"/>
<path d="M273.3 436 L283 432.9 L287.6 437 L287 443.3 L276 443.3Z" fill="#000"/><path d="M302 456 L310 453.6 L315.4 457 L314.5 466.3 L304 466Z" fill="#000"/>
<path d="M278 436 L279 442" fill="none" stroke="#fff" stroke-width="0.84"/>
<path d="M306 457 L307 464" fill="none" stroke="#fff" stroke-width="0.84"/>
<path d="M308.5 465 L276.8 544.4" fill="none" stroke="#000" stroke-width="1.32"/>
<path d="M247.7 523.3 L279.4 533.8" fill="none" stroke="#000" stroke-width="1.2"/>
<path d="M212.2 538.1 L228.8 532.2 L240.8 535.8 L249.1 535.8 L270.6 541.7 L276.5 550.1 L267 557.2 L240.8 563.2 L228.8 571.5 L222.9 576.3 L214.5 573.9 L209.8 559.6 L208.6 545.3Z" fill="url(#fl)" stroke="#000" stroke-width="1.2"/>
<path d="M205 545 L212 538 L216 560 L222 577 L212 579Z" fill="#000"/>
<path d="M248 536 L252 532 L270 537 L276 541" fill="none" stroke="#000" stroke-width="2.64"/>
<path d="M222 562 L232 556" fill="none" stroke="#fff" stroke-width="3.0" stroke-linecap="round"/>
<path d="M212 575 L236 570 L279 555" fill="none" stroke="#000" stroke-width="1.92"/>
<path d="M468.7 607.3 L505.1 611.6 L506.6 620.4 L519.7 637.9 L527 648.1 L532.8 669.9 L538.6 693.2 L541.5 701.5 L550.3 703.2 L629 674.2 L637 667 L640.9 656.8 L658.4 590 L659.7 587.2 L658.9 579.3 L653.3 573.7 L645.4 570.5 L592.9 569.7 L581.8 577.7 L573.8 590.4 L560.7 621.8 L549.5 647.2 L537.2 655.3" fill="none" stroke="#000" stroke-width="2.64"/>
<path d="M468.7 607.3 L470.2 616 L481.8 646.6 L495 674.3 L503.7 679.4 L532.8 688.8 L541.5 700.5" fill="none" stroke="#000" stroke-width="2.64"/>
<path d="M471.7 617.5 L506.6 620.4" fill="none" stroke="#000" stroke-width="2.88"/>
<path d="M476 621.8 L495 672.8 L531.4 684.5" fill="none" stroke="#000" stroke-width="1.2"/>
<circle cx="474" cy="612" r="1.5" fill="#000"/><circle cx="500.5" cy="614" r="1.5" fill="#000"/>
<path d="M478 609 L479 617" fill="none" stroke="#000" stroke-width="1.44"/>
<path d="M494 610 L495 618.5" fill="none" stroke="#000" stroke-width="1.44"/>
<path d="M509.5 621 L523 638.5 L530.5 648.5 L536.5 670 L541.5 692" fill="none" stroke="#000" stroke-width="1.8"/>
<path d="M512 627 L524 642 L529 656 L534 685" fill="none" stroke="#000" stroke-width="1.92" stroke-dasharray="1 0.8"/>
<path d="M532 652 L540 690" fill="none" stroke="#000" stroke-width="1.2"/>
<path d="M535.7 652.4 L547.4 649.5 L553 640 L564.3 615 L577 585.6 L588.2 574.5 L645.4 572.9 L653.3 579.3 L653.3 590.4 L645.4 615 L632.2 656.8" fill="none" stroke="#000" stroke-width="1.44"/>
<path d="M597.7 562.6 L600.9 560.2 L653.3 561.8 L654.1 566.5" fill="none" stroke="#000" stroke-width="1.92"/>
<path d="M596.1 568.1 L653.3 568.9" fill="none" stroke="#000" stroke-width="1.44"/>
<rect x="611.7" y="559.5" width="9" height="10" fill="#000"/><rect x="642" y="560" width="11" height="10" fill="#000"/><path d="M614 561 v7 M617.5 561 v7 M645 562 h5 M645 566 h5" stroke="#fff" stroke-width="0.8"/>
<path d="M646 593 L632.5 650" fill="none" stroke="#000" stroke-width="4.32" stroke-dasharray="1 0.7"/>
<path d="M649.7 590 L636 650" fill="none" stroke="#000" stroke-width="1.08"/>
<path d="M541 652 L568.6 647.2 L586.1 644 L595.6 645.6 L629 655.2" fill="none" stroke="#000" stroke-width="1.32"/>
<path d="M551.1 691.7 L624.2 667.9 L632.2 656.8" fill="none" stroke="#000" stroke-width="1.32"/>
<path d="M536.5 661 L560 656 L579.7 652.6 L616.3 660.5 L619 666 L614.7 667.9 L563.8 682.2 L544.8 690 L540 680Z" fill="url(#fl2)" stroke="#000" stroke-width="1.2"/>
<path d="M548 671 L565 664" fill="none" stroke="#fff" stroke-width="2.64"/>
<rect x="576" y="655" width="12" height="6" fill="#000"/><rect x="594" y="657" width="10" height="6" fill="#000"/>
<path d="M536 692 L552 687 L620 668" fill="none" stroke="#000" stroke-width="1.8"/>
<path d="M573 697.5 L574 692" fill="none" stroke="#000" stroke-width="1.08"/>
<path d="M620 679 L616 669" fill="none" stroke="#000" stroke-width="1.08"/>
<path d="M56.1 707.1 L75.6 682.5 L80 685.7 L103.8 673.7 L108.5 676.1 L110.5 691.2 L82.3 706.3 L83.9 712.7 L60.5 710.3Z" fill="none" stroke="#000" stroke-width="1.44"/>
<path d="M60.5 710.3 L79.2 686.4" fill="none" stroke="#000" stroke-width="1.2"/>
<path d="M80.7 688 L107.7 676.9" fill="none" stroke="#000" stroke-width="1.2"/>
<path d="M80.7 688 L82.3 706.3" fill="none" stroke="#000" stroke-width="1.2"/>
<text transform="translate(78.8 707.2) skewY(-23) scale(0.62 1)" x="0" y="0" style="font-family:'Liberation Serif',serif;font-size:18.5px;font-weight:bold;fill:#000">FWD</text>
</svg>
</body></html>
